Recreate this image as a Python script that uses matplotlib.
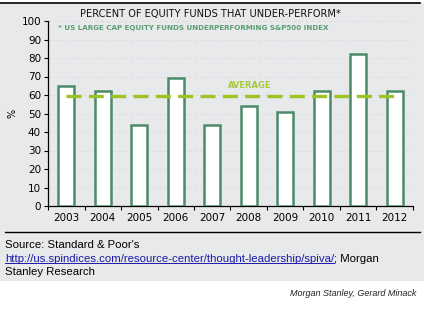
import matplotlib.pyplot as plt
from matplotlib.patches import Rectangle
from matplotlib.lines import Line2D

years = ['2003', '2004', '2005', '2006', '2007', '2008', '2009', '2010', '2011', '2012']
pct_under = [65, 62, 44, 69, 44, 54, 51, 62, 82, 62]
average = sum(pct_under) / len(pct_under)

W, H = 429, 321
fig = plt.figure(figsize=(W / 100, H / 100), dpi=100)
fig.patch.set_facecolor('white')

def px(x, y):
    return x / W, 1 - y / H

# gray panel and rules
fig.add_artist(Rectangle((0, 1 - 281 / H), 424 / W, 278 / H, transform=fig.transFigure,
                         facecolor='#e7e9eb', edgecolor='none', zorder=0))
fig.add_artist(Line2D([0, 420 / W], [1 - 3 / H] * 2, transform=fig.transFigure, color='black', lw=1.2))
fig.add_artist(Line2D([5 / W, 420 / W], [1 - 232 / H] * 2, transform=fig.transFigure, color='black', lw=1.0))

ax = fig.add_axes([48 / W, 1 - 206 / H, (413 - 48) / W, (206 - 21) / H])
ax.set_facecolor('none')
x = range(len(years))
ax.bar(x, pct_under, width=0.44, color='white', edgecolor='#4b8b68', linewidth=1.8, zorder=3)
ax.plot([0, len(years) - 1], [average, average], color='#9dc424', lw=2.4,
        dashes=(4.5, 2.2), zorder=4)
ax.text(4.42, 65, 'AVERAGE', color='#a6c93a', fontsize=6, fontweight='bold', ha='left', va='center')

ax.set_xlim(-0.5, len(years) - 0.5)
ax.set_ylim(0, 100)
ax.set_yticks(range(0, 101, 10))
ax.set_xticks([i - 0.5 for i in range(len(years) + 1)])
ax.set_xticklabels([])
ax.set_xticks(list(x), minor=True)
ax.set_xticklabels(years, minor=True)
ax.tick_params(axis='x', which='minor', length=0, labelsize=7.5, pad=5)
ax.tick_params(axis='x', which='major', length=3, direction='out')
ax.tick_params(axis='y', length=3, labelsize=7.5, pad=2)
for sp in ['top', 'right']:
    ax.spines[sp].set_visible(False)
ax.spines['left'].set_linewidth(0.9)
ax.spines['bottom'].set_linewidth(0.9)
ax.yaxis.grid(True, color='#d9dbde', lw=0.6, linestyle=(0, (4, 3)), zorder=0)
ax.set_axisbelow(True)
ax.set_ylabel('%', fontsize=7, labelpad=3)

fig.text(*px(210, 14), 'PERCENT OF EQUITY FUNDS THAT UNDER-PERFORM*', fontsize=7.1,
         ha='center', va='center', color='#111111')
fig.text(*px(58, 28), '* US LARGE CAP EQUITY FUNDS UNDERPERFORMING S&P500 INDEX', fontsize=5.1,
         fontweight='bold', ha='left', va='center', color='#5b9e72')

src = {'fontsize': 8.2, 'family': 'Liberation Sans', 'va': 'center', 'ha': 'left'}
fig.text(*px(5, 245), "Source: Standard & Poor's", **src)
link = fig.text(*px(5, 259), 'http://us.spindices.com/resource-center/thought-leadership/spiva/', color='#1a1aa8', **src)
fig.canvas.draw()
bb = link.get_window_extent().transformed(fig.transFigure.inverted())
fig.add_artist(Line2D([bb.x0, bb.x1], [bb.y0 + 0.004] * 2, transform=fig.transFigure, color='#1a1aa8', lw=0.7))
fig.text(bb.x1, 1 - 259 / H, '; Morgan', **src)
fig.text(*px(5, 272), 'Stanley Research', **src)
fig.text(*px(416, 294), 'Morgan Stanley, Gerard Minack', fontsize=6.5, family='Liberation Sans',
         style='italic', ha='right', va='center', color='#222222')

fig.savefig('out.png', dpi=100)
